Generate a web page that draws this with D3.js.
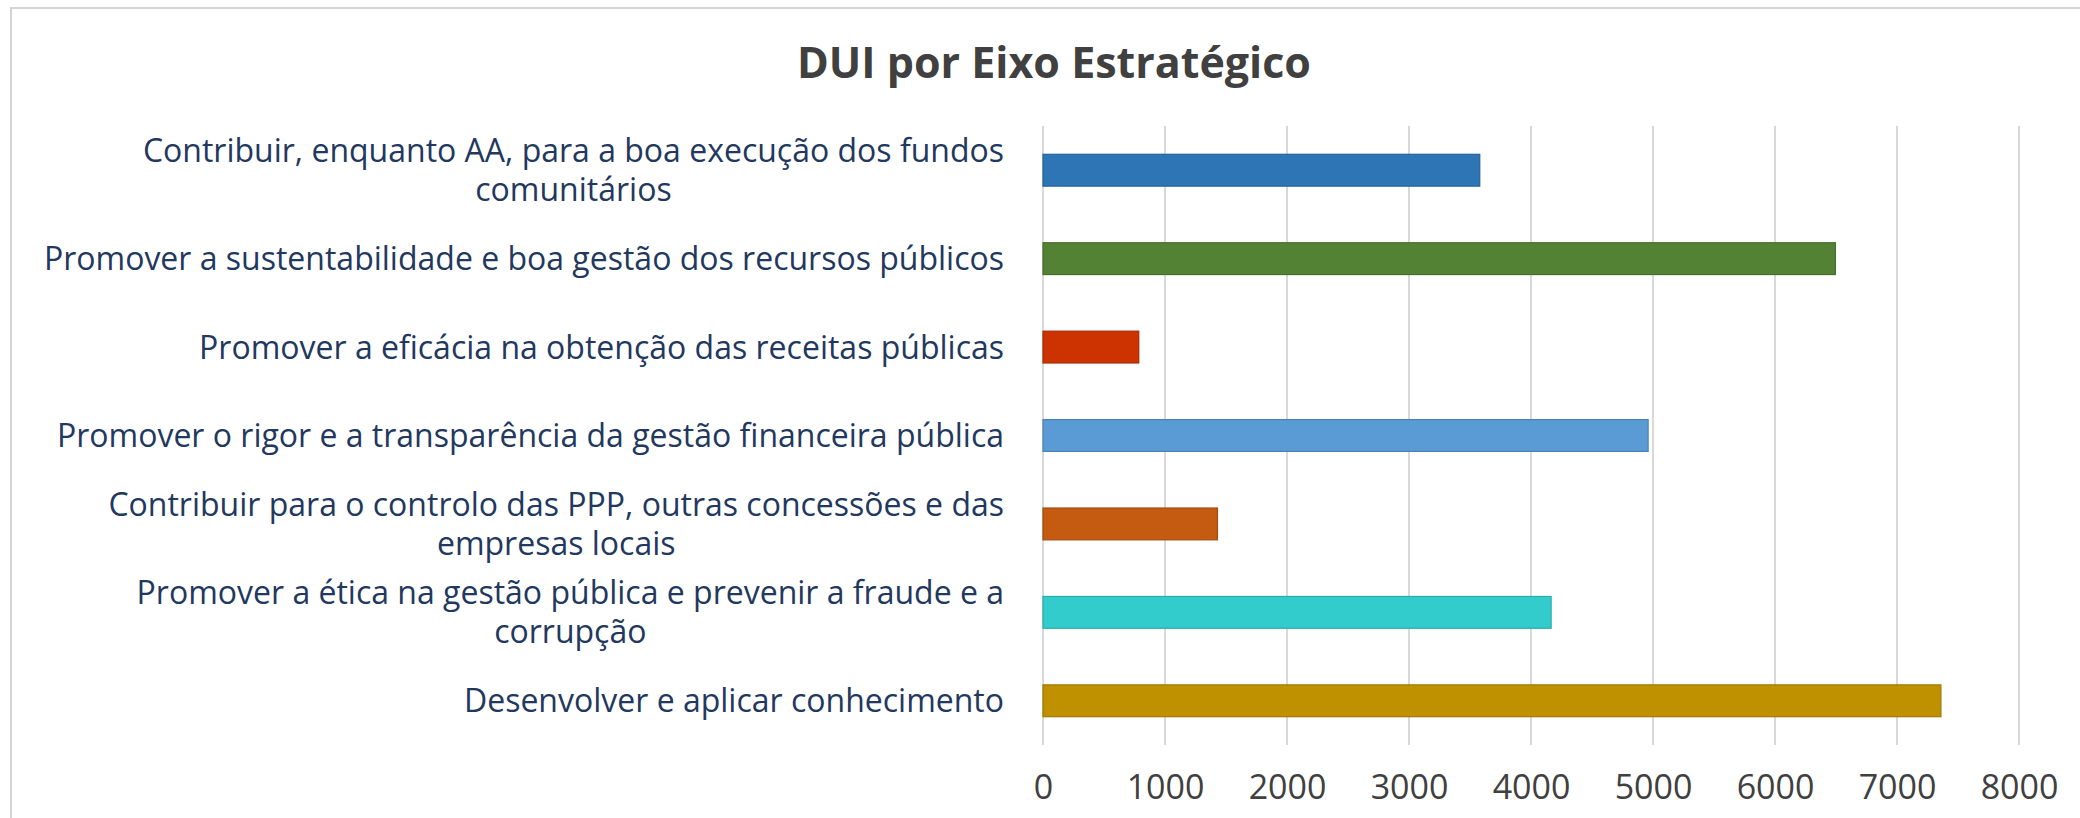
<!DOCTYPE html>
<html lang="pt">
<head>
  <meta charset="UTF-8">
  <title>DUI por Eixo Estratégico</title>
  <script src="https://d3js.org/d3.v7.min.js"></script>
  <style>
    body {
      margin: 0;
      background-color: #ffffff;
      font-family: "Open Sans", Arial, sans-serif;
    }
    svg { display: block; }
  </style>
</head>
<body>
  <div id="chart"></div>

  <script>
    // categories (top to bottom), each one split into the lines shown
    const categories = [
      ["Contribuir, enquanto AA, para a boa execução dos fundos", "comunitários"],
      ["Promover a sustentabilidade e boa gestão dos recursos públicos"],
      ["Promover a eficácia na obtenção das receitas públicas"],
      ["Promover o rigor e a transparência da gestão financeira pública"],
      ["Contribuir para o controlo das PPP, outras concessões e das", "empresas locais"],
      ["Promover a ética na gestão pública e prevenir a fraude e a", "corrupção"],
      ["Desenvolver e aplicar conhecimento"]
    ];
    const values = [3580, 6495, 785, 4960, 1430, 4165, 7360];
    const barColors = ["#2e75b6", "#548235", "#cc3300", "#5b9bd5", "#c55a11", "#33cccc", "#bf9000"];
    const tickValues = [0, 1000, 2000, 3000, 4000, 5000, 6000, 7000, 8000];
    const title = "DUI por Eixo Estratégico";

    const width = 2080, height = 818;

    const svg = d3.select("#chart")
      .append("svg")
      .attr("width", width)
      .attr("height", height);

    // chart frame (only left and top edges are visible in the crop)
    svg.append("path")
      .attr("d", `M11,${height} V8 H${width}`)
      .attr("fill", "none")
      .attr("stroke", "#d4d4d4")
      .attr("stroke-width", 2);

    const x = d3.scaleLinear().domain([0, 8000]).range([1043, 2019]);
    const y = d3.scaleBand()
      .domain(d3.range(categories.length))
      .range([126, 745])
      .paddingInner(0.64)
      .paddingOuter(0.32);

    // title
    svg.append("text")
      .attr("x", 1054)
      .attr("y", 78)
      .attr("text-anchor", "middle")
      .style("font-size", "43px")
      .style("font-weight", "bold")
      .style("fill", "#404040")
      .text(title);

    // vertical gridlines
    svg.append("g")
      .selectAll("line")
      .data(tickValues)
      .enter()
      .append("line")
      .attr("x1", d => x(d))
      .attr("x2", d => x(d))
      .attr("y1", 126)
      .attr("y2", 745)
      .attr("stroke", "#d9d9d9")
      .attr("stroke-width", 2);

    // bars
    svg.append("g")
      .selectAll("rect")
      .data(values)
      .enter()
      .append("rect")
      .attr("x", x(0))
      .attr("y", (d, i) => y(i))
      .attr("width", d => x(d) - x(0))
      .attr("height", y.bandwidth())
      .attr("fill", (d, i) => barColors[i])
      .attr("stroke", (d, i) => d3.color(barColors[i]).darker(0.5))
      .attr("stroke-width", 1.2);

    // x axis labels
    const axis = svg.append("g")
      .attr("transform", "translate(0,745)")
      .call(d3.axisBottom(x).tickValues(tickValues).tickSize(0).tickFormat(d3.format("d")));
    axis.select(".domain").remove();
    axis.selectAll("text")
      .attr("y", 42)
      .attr("dy", "0.36em")
      .style("font-family", "'Open Sans', Arial, sans-serif")
      .style("font-size", "34px")
      .style("fill", "#404040");

    // category labels: block right aligned, lines centred within the block
    const labelRight = 1004;
    const lineGap = 39;
    const labels = svg.append("g")
      .selectAll("g")
      .data(categories)
      .enter()
      .append("g");

    labels.each(function(lines, i) {
      const g = d3.select(this);
      const cy = y(i) + y.bandwidth() / 2;
      const texts = g.selectAll("text")
        .data(lines)
        .enter()
        .append("text")
        .attr("y", (d, j) => cy + (j - (lines.length - 1) / 2) * lineGap)
        .attr("dy", "0.36em")
        .attr("text-anchor", "middle")
        .style("font-size", "32px")
        .style("fill", "#22385e")
        .text(d => d);
      let maxW = 0;
      texts.each(function() { maxW = Math.max(maxW, this.getComputedTextLength()); });
      texts.attr("x", labelRight - maxW / 2);
    });
  </script>
</body>
</html>
